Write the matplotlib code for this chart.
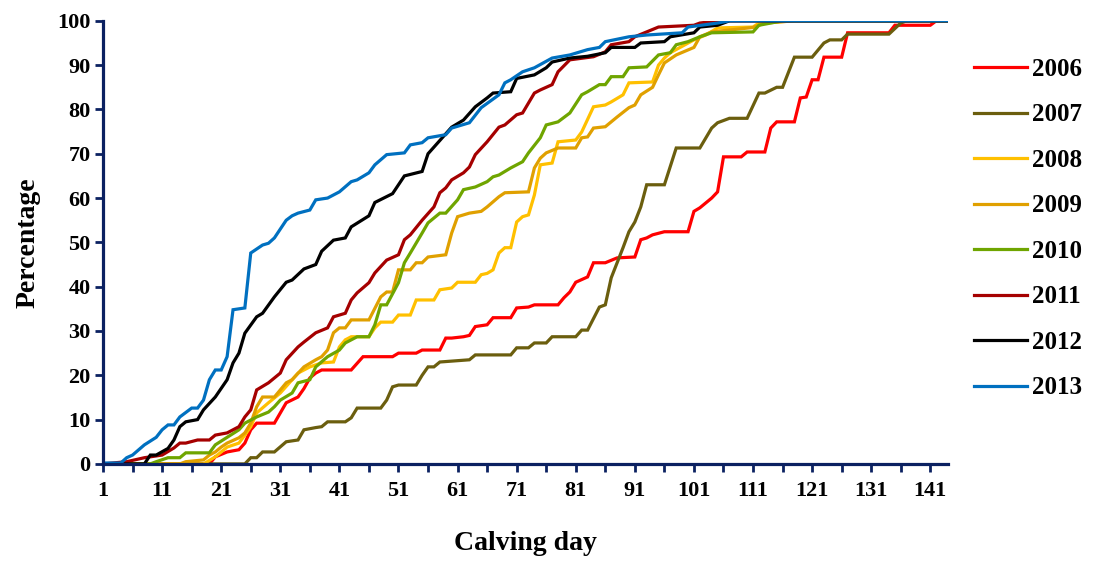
import matplotlib
matplotlib.use("Agg")
import matplotlib.pyplot as plt
from matplotlib.ticker import MultipleLocator, FixedLocator

plt.rcParams["font.family"] = ["Liberation Serif", "DejaVu Serif"]
plt.rcParams["font.weight"] = "bold"

# Cumulative calving percentage by day
days_2006 = [1, 19, 20, 22, 24, 25, 26, 27, 30, 31, 32, 34, 35, 36, 37, 38, 43, 45, 50, 51, 54, 55, 58, 59, 60,
             62, 63, 64, 66, 67, 70, 71, 73, 74, 78, 79, 80, 81, 83, 84, 86, 88, 91, 92, 93, 94, 96, 100, 101,
             102, 104, 105, 106, 109, 110, 113, 114, 115, 118, 119, 120, 121, 122, 123, 126, 127, 134, 135,
             141, 142, 144]
pct_2006 = [0, 0, 1.6, 2.7, 3.2, 4.7, 7.7, 9.2, 9.2, 11.5, 13.8, 15.1, 17, 19.4, 20.5, 21.2, 21.2, 24.2, 24.2,
            25, 25, 25.7, 25.7, 28.4, 28.4, 28.7, 29, 31, 31.4, 33, 33, 35.2, 35.4, 35.9, 35.9, 37.5, 38.8, 41,
            42.2, 45.4, 45.4, 46.5, 46.7, 50.6, 51, 51.7, 52.4, 52.4, 57, 57.8, 60, 61.4, 69.3, 69.3, 70.4,
            70.4, 75.8, 77.2, 77.2, 82.6, 82.8, 86.7, 86.7, 91.8, 91.8, 97.3, 97.3, 99, 99, 100, 100]

days_2007 = [1, 25, 26, 27, 28, 30, 32, 34, 35, 37, 38, 39, 42, 43, 44, 48, 49, 50, 51, 54, 55, 56, 57, 58, 63,
             64, 70, 71, 73, 74, 76, 77, 81, 82, 83, 85, 86, 87, 89, 90, 91, 92, 93, 96, 98, 102, 104, 105,
             107, 110, 112, 113, 115, 116, 118, 121, 123, 124, 126, 127, 134, 136, 137, 144]
pct_2007 = [0, 0, 1.4, 1.4, 2.7, 2.7, 5, 5.4, 7.7, 8.2, 8.4, 9.5, 9.5, 10.4, 12.6, 12.6, 14.4, 17.4, 17.8,
            17.8, 20, 21.9, 21.9, 23, 23.5, 24.6, 24.6, 26.2, 26.2, 27.3, 27.3, 28.7, 28.7, 30.2, 30.2, 35.4,
            35.9, 42, 48.8, 52.4, 54.6, 58, 63, 63, 71.3, 71.3, 75.8, 77, 78, 78, 83.7, 83.7, 85, 85, 91.8,
            91.8, 95, 95.7, 95.7, 97, 97, 99.5, 100, 100]

days_2008 = [1, 18, 20, 21, 22, 24, 25, 26, 27, 29, 31, 32, 33, 34, 36, 38, 40, 41, 42, 43, 46, 47, 48, 50,
             51, 53, 54, 57, 58, 60, 61, 64, 65, 66, 67, 68, 69, 70, 71, 72, 73, 74, 75, 77, 78, 81, 82, 84,
             86, 87, 89, 90, 94, 95, 96, 97, 101, 103, 105, 111, 112, 118, 144]
pct_2008 = [0, 0, 1.6, 2.7, 3.8, 4.7, 6.5, 8.4, 11.5, 13.8, 16, 17.5, 19, 20.5, 21.9, 22.8, 23, 26.4, 28,
            28.7, 28.7, 30.7, 32, 32, 33.6, 33.6, 37, 37, 39.3, 39.7, 41, 41, 42.7, 43, 43.8, 47.6, 48.8,
            48.8, 54.6, 55.8, 56.2, 60.7, 67.5, 67.9, 72.7, 73.1, 74.9, 80.6, 81, 81.7, 83.3, 86, 86.2, 90,
            91.6, 92.8, 95.7, 96.8, 98.4, 98.6, 99.5, 100, 100]

days_2009 = [1, 14, 15, 18, 19, 20, 21, 22, 24, 25, 26, 27, 28, 30, 31, 32, 33, 35, 37, 38, 39, 40, 41, 42,
             43, 46, 48, 49, 50, 51, 53, 54, 55, 56, 59, 60, 61, 63, 65, 66, 68, 69, 73, 74, 75, 76, 78, 81,
             82, 83, 84, 86, 88, 90, 91, 92, 94, 95, 96, 98, 101, 102, 104, 111, 113, 118, 144]
pct_2009 = [0, 0, 0.5, 0.9, 2, 2.7, 3.8, 4.7, 5.9, 7, 9.2, 12.9, 15.1, 15.1, 16.7, 18.3, 19, 21.9, 23.5,
            24.2, 25.7, 29.6, 30.7, 30.7, 32.5, 32.5, 37.7, 38.8, 38.8, 43.8, 43.8, 45.4, 45.4, 46.7, 47.2,
            52.1, 55.8, 56.6, 57, 58, 60.3, 61.2, 61.4, 66.8, 69, 70.2, 71.3, 71.3, 73.6, 73.8, 75.8, 76.1,
            78.3, 80.4, 81, 83.3, 85, 87.8, 90.5, 92.3, 94, 96.4, 97.5, 98.5, 99.5, 100, 100]

days_2010 = [1, 9, 10, 12, 14, 15, 19, 20, 22, 24, 25, 27, 29, 30, 31, 33, 34, 36, 37, 39, 41, 42, 44, 46,
             47, 48, 49, 51, 52, 53, 55, 56, 58, 59, 61, 62, 64, 66, 67, 68, 70, 72, 73, 75, 76, 78, 80, 82,
             83, 85, 86, 87, 89, 90, 93, 95, 97, 98, 100, 102, 104, 111, 112, 116, 144]
pct_2010 = [0, 0, 0.5, 1.4, 1.4, 2.5, 2.5, 4.3, 6, 7.7, 9.2, 10.6, 11.7, 12.9, 14.4, 16, 18.3, 19, 21.9,
            24.2, 25.7, 27.3, 28.7, 28.7, 31.4, 35.9, 35.9, 40.9, 45.4, 47.6, 52.1, 54.4, 56.6, 56.6, 59.6,
            61.9, 62.5, 63.7, 64.8, 65.2, 66.8, 68.2, 70.2, 73.6, 76.5, 77.2, 79.2, 83.3, 84, 85.6, 85.6,
            87.4, 87.4, 89.4, 89.6, 92.3, 92.8, 94.6, 95.3, 96.4, 97.3, 97.5, 99, 100, 100]

days_2011 = [1, 5, 8, 11, 13, 14, 15, 17, 19, 20, 22, 24, 25, 26, 27, 29, 31, 32, 34, 35, 37, 39, 40, 42,
             43, 44, 46, 47, 49, 51, 52, 53, 55, 57, 58, 59, 60, 62, 63, 64, 66, 68, 69, 71, 72, 74, 75, 77,
             78, 80, 84, 86, 87, 90, 91, 93, 95, 101, 102, 105, 144]
pct_2011 = [0, 0.5, 1.4, 2, 3.6, 4.7, 4.7, 5.4, 5.4, 6.5, 7, 8.4, 10.6, 12.2, 16.7, 18.3, 20.5, 23.5, 26.4,
            27.5, 29.6, 30.7, 33.2, 34, 37, 38.6, 40.9, 43.1, 46, 47.2, 50.6, 51.7, 55, 58, 61.2, 62.3, 64.1,
            65.7, 67, 69.8, 72.7, 76, 76.5, 78.8, 79.2, 83.7, 84.4, 85.6, 88.5, 91.2, 91.9, 93, 94.6, 95.3,
            96.4, 97.5, 98.6, 99, 99.5, 100, 100]

days_2012 = [1, 8, 9, 10, 12, 13, 14, 15, 17, 18, 20, 22, 23, 24, 25, 27, 28, 30, 32, 33, 35, 37, 38, 40,
             42, 43, 46, 47, 50, 52, 55, 56, 58, 60, 62, 64, 66, 67, 70, 71, 74, 76, 77, 80, 83, 86, 87, 91,
             92, 96, 97, 101, 102, 105, 107, 144]
pct_2012 = [0, 0, 2, 2, 3.5, 5.4, 8.4, 9.5, 10, 12.2, 15.1, 19, 22.8, 25, 29.5, 33.2, 34, 37.7, 41, 41.5,
            44, 45, 48, 50.5, 51, 53.5, 56, 59, 61, 65, 66, 70, 73, 76, 77.6, 80.6, 82.6, 83.7, 84, 87, 87.8,
            89.4, 90.7, 91.6, 92, 92.8, 94, 94, 95, 95.3, 96.4, 97.3, 98.6, 99, 100, 100]

days_2013 = [1, 4, 5, 6, 8, 10, 11, 12, 13, 14, 16, 17, 18, 19, 20, 21, 22, 23, 25, 26, 28, 29, 30, 31, 32,
             33, 34, 36, 37, 39, 41, 43, 44, 46, 47, 49, 52, 53, 55, 56, 59, 60, 63, 65, 68, 69, 70, 72, 74,
             77, 80, 83, 85, 86, 90, 93, 99, 100, 105, 107, 144]
pct_2013 = [0.2, 0.2, 1.4, 2, 4.3, 6, 7.7, 8.8, 8.8, 10.6, 12.6, 12.6, 14.4, 19, 21.2, 21.2, 24.2, 34.8,
            35.2, 47.6, 49.4, 49.8, 51, 53, 55, 56, 56.6, 57.3, 59.6, 60, 61.4, 63.7, 64.1, 65.7, 67.5, 69.8,
            70.2, 72, 72.5, 73.6, 74.3, 75.8, 77, 80.4, 83.3, 86, 86.7, 88.5, 89.4, 91.6, 92.3, 93.5, 94,
            95.3, 96.4, 96.8, 97.3, 98.6, 99.5, 100, 100]

years = ["2006", "2007", "2008", "2009", "2010", "2011", "2012", "2013"]
all_days = [days_2006, days_2007, days_2008, days_2009, days_2010, days_2011, days_2012, days_2013]
all_pct = [pct_2006, pct_2007, pct_2008, pct_2009, pct_2010, pct_2011, pct_2012, pct_2013]
colores = ["#FF0000", "#6B5E0E", "#FFC000", "#E0A000", "#6FA500", "#A50000", "#000000", "#0070C0"]

azul = "#0B2161"

fig = plt.figure(figsize=(10.96, 5.63), dpi=100)
ax = fig.add_axes([0.094, 0.176, 0.771, 0.787])

for d, p, y, c in zip(all_days, all_pct, years, colores):
    ax.plot(d, p, color=c, linewidth=2.3, label=y, solid_joinstyle="miter")

ax.set_xlim(1, 144)
ax.set_ylim(0, 100)
ax.xaxis.set_major_locator(FixedLocator(list(range(1, 145, 10))))
ax.xaxis.set_minor_locator(FixedLocator(list(range(6, 145, 10))))
ax.yaxis.set_major_locator(MultipleLocator(10))

for lado in ["top", "right"]:
    ax.spines[lado].set_visible(False)
for lado in ["left", "bottom"]:
    ax.spines[lado].set_color(azul)
    ax.spines[lado].set_linewidth(2.3)

ax.tick_params(axis="both", which="both", direction="out", color=azul, width=2, length=6)
ax.tick_params(axis="x", which="major", labelsize=16, pad=6)
ax.tick_params(axis="y", labelsize=16, pad=3)

ax.set_xlabel("Calving day", fontsize=20, fontweight="bold", labelpad=22)
ax.set_ylabel("Percentage", fontsize=20, fontweight="bold", labelpad=12)

fig.legend(loc="center left", bbox_to_anchor=(0.889, 0.594), frameon=False, fontsize=18,
           handlelength=2.1, handletextpad=0.2, labelspacing=0.9, borderpad=0,
           borderaxespad=0)

fig.savefig("out.png", dpi=100)
